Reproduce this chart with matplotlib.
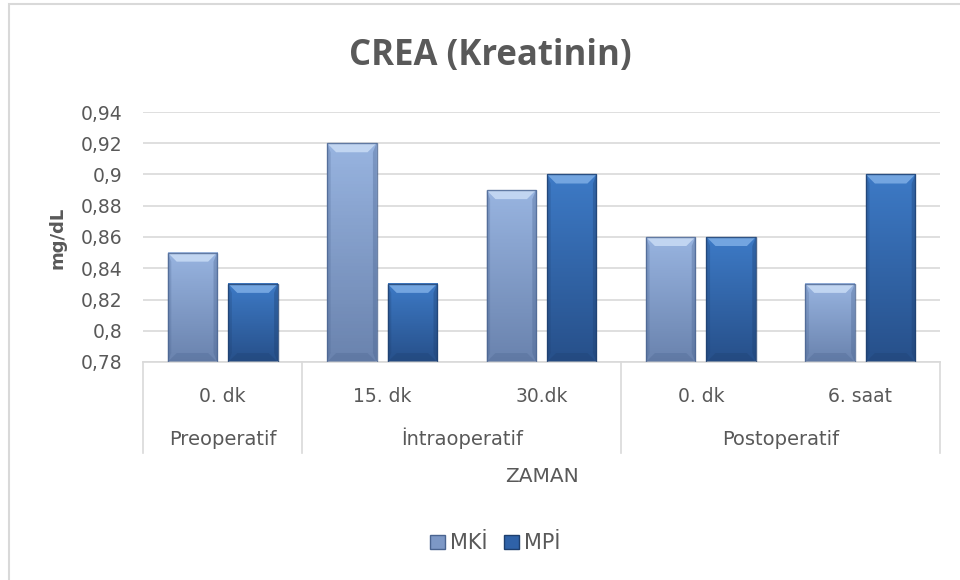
import matplotlib
matplotlib.use("Agg")
import matplotlib.pyplot as plt
import numpy as np
from matplotlib.colors import LinearSegmentedColormap
from matplotlib.patches import Polygon, Rectangle, Patch

plt.rcParams["font.family"] = ["DejaVu Sans"]

# data
time_points = ["0. dk", "15. dk", "30.dk", "0. dk", "6. saat"]
phases = ["Preoperatif", "İntraoperatif", "Postoperatif"]
phase_sizes = [1, 2, 2]
mki = [0.85, 0.92, 0.89, 0.86, 0.83]
mpi = [0.83, 0.83, 0.90, 0.86, 0.90]
series_names = ["MKİ", "MPİ"]
y_ticks = [0.78, 0.80, 0.82, 0.84, 0.86, 0.88, 0.90, 0.92, 0.94]
y_ticklabels = ["0,78", "0,8", "0,82", "0,84", "0,86", "0,88", "0,9", "0,92", "0,94"]

TEXT = "#595959"
GRID = "#d9d9d9"
STYLES = {
    "MKİ": dict(top="#98b4e0", bottom="#6a83ae", bevel="#c9dcf5", edge="#4a6490", legend="#7d98c6"),
    "MPİ": dict(top="#3d7ac6", bottom="#27508a", bevel="#7eaee6", edge="#1e3f6e", legend="#2f62a8"),
}

W, H = 960, 580
fig = plt.figure(figsize=(W / 100, H / 100), dpi=100)
ax = fig.add_axes([143 / W, 1 - 362 / H, 797 / W, 250 / H])
ymin, ymax = y_ticks[0], y_ticks[-1]
ax.set_xlim(-0.5, len(time_points) - 0.5)
ax.set_ylim(ymin, ymax)

x = np.arange(len(time_points))
width, offset = 0.31, 0.19
px_y = (ymax - ymin) / ax.bbox.height
px_x = len(time_points) / ax.bbox.width


def bevel_bar(bar, st):
    x0, w, h = bar.get_x(), bar.get_width(), bar.get_height()
    y0 = bar.get_y()
    x1, y1 = x0 + w, y0 + h
    cmap = LinearSegmentedColormap.from_list("g", [st["bottom"], st["top"]])
    grad = np.linspace(0, 1, 64).reshape(-1, 1)
    ax.imshow(grad, extent=[x0, x1, y0, y1], origin="lower", aspect="auto",
              cmap=cmap, zorder=2)
    bx, by = 9 * px_x, 9 * px_y
    ax.add_patch(Polygon([(x0, y1), (x1, y1), (x1 - bx, y1 - by), (x0 + bx, y1 - by)],
                         closed=True, fc=st["bevel"], ec="none", alpha=0.85, zorder=3))
    ax.add_patch(Polygon([(x0, y0), (x1, y0), (x1 - bx, y0 + by), (x0 + bx, y0 + by)],
                         closed=True, fc=st["edge"], ec="none", alpha=0.3, zorder=3))
    ax.add_patch(Polygon([(x0, y0), (x0 + bx * 0.4, y0 + by), (x0 + bx * 0.4, y1 - by), (x0, y1)],
                         closed=True, fc=st["edge"], ec="none", alpha=0.25, zorder=3))
    ax.add_patch(Polygon([(x1, y0), (x1 - bx * 0.4, y0 + by), (x1 - bx * 0.4, y1 - by), (x1, y1)],
                         closed=True, fc=st["edge"], ec="none", alpha=0.35, zorder=3))
    ax.add_patch(Rectangle((x0, y0), w, h, fc="none", ec=st["edge"], lw=1.0, alpha=0.8, zorder=4))


for name, vals, sign in [("MKİ", mki, -1), ("MPİ", mpi, 1)]:
    bars = ax.bar(x + sign * offset, np.array(vals) - ymin, width, bottom=ymin,
                  color="none", edgecolor="none", zorder=2)
    for b in bars:
        bevel_bar(b, STYLES[name])

ax.set_xlim(-0.5, len(time_points) - 0.5)
ax.set_ylim(ymin, ymax)

ax.set_yticks(y_ticks)
ax.set_yticklabels(y_ticklabels)
ax.yaxis.grid(True, color=GRID, lw=1.2, zorder=0)
ax.set_axisbelow(True)
ax.tick_params(axis="y", length=0, pad=14.5, labelsize=13.5, labelcolor=TEXT)
for s in ["top", "right", "left"]:
    ax.spines[s].set_visible(False)
ax.spines["bottom"].set_color(GRID)
ax.spines["bottom"].set_linewidth(1.2)
ax.set_xticks([])

# two-level category axis: time points, then surgical phase
trans = ax.get_xaxis_transform()
ax_h = 250
for xi, lab in zip(x, time_points):
    ax.text(xi, -(402 - 362) / ax_h, lab, transform=trans, ha="center", va="baseline",
            fontsize=13.5, color=TEXT)
bounds = np.concatenate([[0], np.cumsum(phase_sizes)]) - 0.5
for b in bounds:
    ax.plot([b, b], [0, -(453 - 362) / ax_h], transform=trans, color=GRID, lw=1.2,
            clip_on=False)
for i, ph in enumerate(phases):
    ax.text((bounds[i] + bounds[i + 1]) / 2, -(445 - 362) / ax_h, ph, transform=trans,
            ha="center", va="baseline", fontsize=14, color=TEXT)

ax.text(0.5, -(482 - 362) / ax_h, "ZAMAN", transform=ax.transAxes, ha="center",
        va="baseline", fontsize=14.5, color=TEXT)
fig.text(58 / W, 1 - 238 / H, "mg/dL", ha="center", va="center", rotation=90,
         fontsize=13, fontweight="bold", color=TEXT)
fig.text(490 / W, 1 - 65 / H, "CREA (Kreatinin)", ha="center", va="baseline",
         fontsize=25, fontweight="bold", color=TEXT, family=["Open Sans", "DejaVu Sans"])

handles = [Patch(facecolor=STYLES[n]["legend"], edgecolor=STYLES[n]["edge"], label=n)
           for n in series_names]
fig.legend(handles=handles, loc="center", bbox_to_anchor=(495 / W, 1 - 543 / H),
           ncol=2, frameon=False, fontsize=15, labelcolor=TEXT, handlelength=0.72,
           handleheight=0.65, handletextpad=0.25, columnspacing=0.8, borderpad=0,
           borderaxespad=0)

# chart-area frame, running off the right and bottom edges
fig.add_artist(Rectangle((9 / W, -0.05), 1.0, 1 - 4 / H + 0.05, transform=fig.transFigure,
                         fill=False, ec=GRID, lw=1.5))

fig.savefig("out.png", dpi=100)
